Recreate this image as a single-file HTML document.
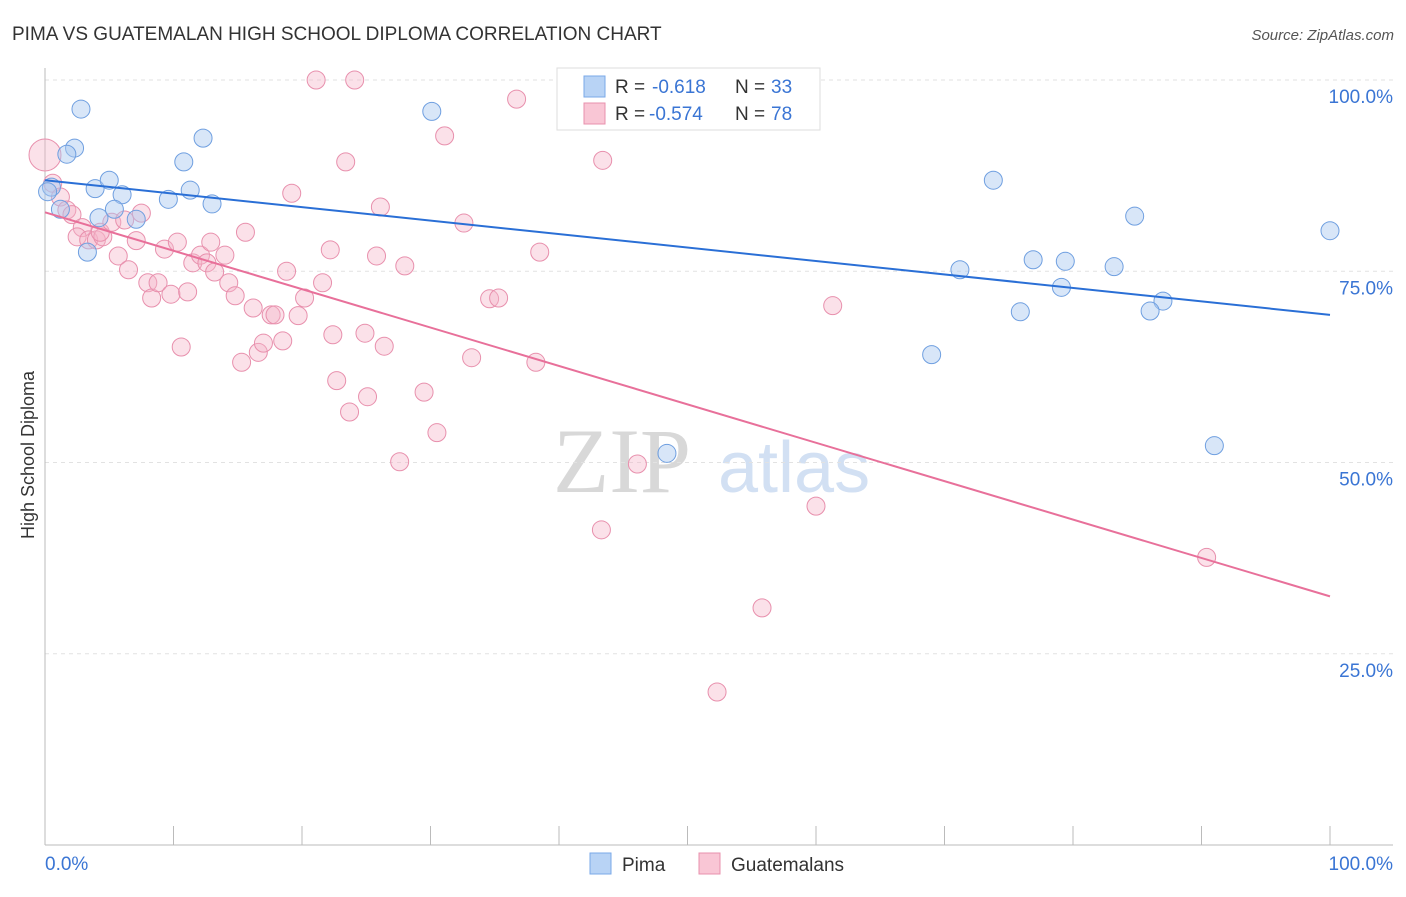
<!DOCTYPE html>
<html><head><meta charset="utf-8"><style>
body{margin:0;background:#fff;font-family:"Liberation Sans",sans-serif;}
svg text{font-family:"Liberation Sans",sans-serif;}
</style></head><body>
<svg id="chart" width="1406" height="892" xmlns="http://www.w3.org/2000/svg">
<text x="12" y="40" font-size="19" fill="#333">PIMA VS GUATEMALAN HIGH SCHOOL DIPLOMA CORRELATION CHART</text>
<text x="1394" y="40" font-size="15" fill="#555" font-style="italic" text-anchor="end">Source: ZipAtlas.com</text>
<text transform="translate(34,455) rotate(-90)" font-size="18" fill="#333" text-anchor="middle">High School Diploma</text>
<g>
<text x="553" y="492" font-size="92" style="font-family:'Liberation Serif',serif" fill="#d8d8d8">ZIP</text>
<text x="718" y="492" font-size="72" fill="#d2e0f3">atlas</text>
</g>
<g id="grid"></g><g id="axes"></g><g id="marks"></g><g id="lines"></g>
<g>
<rect x="557" y="68" width="263" height="62" fill="#fff" stroke="#ddd"/>
<rect x="584" y="76" width="21" height="21" fill="#b8d3f5" stroke="#7aa8e8"/>
<text x="615" y="93" font-size="19" fill="#333">R =</text>
<text x="652" y="93" font-size="19" fill="#3a75d4">-0.618</text>
<text x="735" y="93" font-size="19" fill="#333">N =</text>
<text x="771" y="93" font-size="19" fill="#3a75d4">33</text>
<rect x="584" y="103" width="21" height="21" fill="#f9c6d5" stroke="#e890ad"/>
<text x="615" y="120" font-size="19" fill="#333">R =</text>
<text x="649" y="120" font-size="19" fill="#3a75d4">-0.574</text>
<text x="735" y="120" font-size="19" fill="#333">N =</text>
<text x="771" y="120" font-size="19" fill="#3a75d4">78</text>
</g>
<g>
<rect x="590" y="853" width="21" height="21" fill="#b8d3f5" stroke="#7aa8e8"/>
<text x="622" y="871" font-size="19" fill="#333">Pima</text>
<rect x="699" y="853" width="21" height="21" fill="#f9c6d5" stroke="#e890ad"/>
<text x="731" y="871" font-size="19" fill="#333">Guatemalans</text>
</g>
</svg>
<script>
const yTicks=[25,50,75,100];
const yTickLabels=["25.0%","50.0%","75.0%","100.0%"];
const xTicks=[0,10,20,30,40,50,60,70,80,90,100];
const pimaX=[2.8,2.3,1.7,0.5,0.2,1.2,3.9,5.0,6.0,4.2,5.4,3.3,7.1,9.6,10.8,11.3,12.3,13.0,30.1,48.4,69.0,71.2,73.8,75.9,76.9,79.1,79.4,83.2,84.8,87.0,86.0,91.0,100];
const pimaY=[96.2,91.1,90.3,86.0,85.4,83.1,85.8,86.9,85.0,82.0,83.1,77.5,81.8,84.4,89.3,85.6,92.4,83.8,95.9,51.2,64.1,75.2,86.9,69.7,76.5,72.9,76.3,75.6,82.2,71.1,69.8,52.2,80.3];
const guatX=[0,0.6,1.2,1.7,2.1,2.9,2.5,3.4,4.0,4.5,4.3,5.2,6.2,7.5,5.7,6.5,7.1,8.0,8.3,8.8,9.3,9.8,10.3,10.6,11.1,11.5,12.1,12.6,12.9,13.2,14.0,14.3,14.8,15.6,15.3,16.2,16.6,17.0,17.6,17.9,18.5,18.8,19.2,19.7,20.2,21.1,21.6,22.2,22.4,22.7,23.4,23.7,24.1,24.9,25.1,25.8,26.1,26.4,27.6,28.0,29.5,30.5,31.1,32.6,33.2,34.6,35.3,36.7,38.2,38.5,43.3,43.4,46.1,52.3,55.8,60.0,61.3,90.4];
const guatY=[90.2,86.5,84.7,83.0,82.4,80.7,79.5,79.1,79.1,79.5,80.1,81.4,81.7,82.6,77.0,75.2,79.0,73.5,71.5,73.5,77.9,72.0,78.8,65.1,72.3,76.1,77.1,76.1,78.8,74.9,77.1,73.5,71.8,80.1,63.1,70.2,64.4,65.6,69.3,69.3,65.9,75.0,85.2,69.2,71.5,100,73.5,77.8,66.7,60.7,89.3,56.6,100,66.9,58.6,77.0,83.4,65.2,50.1,75.7,59.2,53.9,92.7,81.3,63.7,71.4,71.5,97.5,63.1,77.5,41.2,89.5,49.8,20.0,31.0,44.3,70.5,37.6];
const pimaTrend=[86.9,69.3];
const guatTrend=[82.7,32.5];
const NS="http://www.w3.org/2000/svg";
const X=v=>45+v*12.85, Y=v=>845-v*7.65;
function mk(tag,attrs,parent){const e=document.createElementNS(NS,tag);for(const k in attrs)e.setAttribute(k,attrs[k]);document.getElementById(parent).appendChild(e);return e;}
yTicks.forEach((t,i)=>{
 const l=mk('line',{x1:45,x2:1393,y1:Y(t),y2:Y(t),stroke:'#e2e2e2','stroke-dasharray':'4,4'},'grid');
 
 
 const tx=mk('text',{x:1393,y:Y(t)+23,'font-size':19,fill:'#3a75d4','text-anchor':'end'},'grid');
 tx.textContent=yTickLabels[i];
 
 
});
const ya=mk('line',{x1:45,x2:45,y1:68,y2:845,stroke:'#bbb'},'axes');


const xa=mk('line',{x1:45,x2:1393,y1:845,y2:845,stroke:'#bbb'},'axes');


xTicks.forEach(t=>{
 const l=mk('line',{x1:X(t),x2:X(t),y1:826,y2:845,stroke:'#bbb'},'axes');
 
 
});
const xl0=mk('text',{x:45,y:870,'font-size':19,fill:'#3a75d4'},'axes');xl0.textContent='0.0%';


const xl1=mk('text',{x:1393,y:870,'font-size':19,fill:'#3a75d4','text-anchor':'end'},'axes');xl1.textContent='100.0%';


guatX.forEach((v,i)=>{
 const c=mk('circle',{cx:X(v),cy:Y(guatY[i]),r:i===0?16:9,fill:'#f5b5c8','fill-opacity':0.4,stroke:'#e890ad','stroke-width':1},'marks');
 
 
});
pimaX.forEach((v,i)=>{
 const c=mk('circle',{cx:X(v),cy:Y(pimaY[i]),r:9,fill:'#a9c8f0','fill-opacity':0.45,stroke:'#6f9fe0','stroke-width':1},'marks');
 
 
});
const pl=mk('line',{x1:X(0),y1:Y(pimaTrend[0]),x2:X(100),y2:Y(pimaTrend[1]),stroke:'#2a6fd6','stroke-width':2},'lines');


const gl=mk('line',{x1:X(0),y1:Y(guatTrend[0]),x2:X(100),y2:Y(guatTrend[1]),stroke:'#e8709a','stroke-width':2},'lines');


</script>
</body></html>
